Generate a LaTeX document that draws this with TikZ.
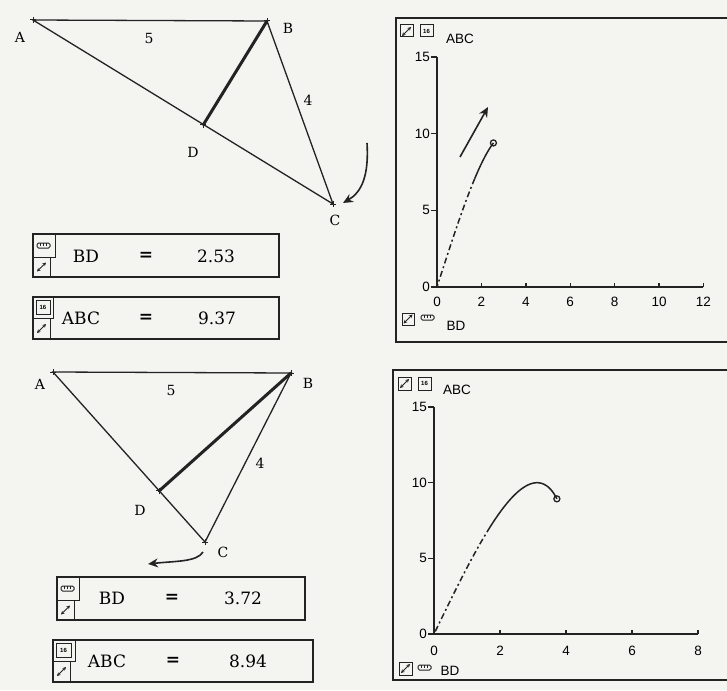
\documentclass[tikz,border=0pt]{standalone}
\usepackage{fontspec}
\setmainfont{DejaVu Serif}
\newfontfamily\plotfont{Liberation Sans}
\usetikzlibrary{arrows.meta,calc}
\definecolor{figline}{RGB}{35,35,35}
\definecolor{figpaper}{RGB}{244,244,241}
\tikzset{
  ln/.style   ={draw=figline, line width=1.3pt},
  lnb/.style  ={draw=figline, line width=3pt, line cap=round},
  rdb/.style  ={draw=figline, line width=2.4pt},
  frm/.style  ={draw=figline, line width=1.8pt},
  ico/.style  ={draw=figline, line width=1pt},
  ax/.style   ={draw=figline, line width=1.4pt},
  crv/.style  ={draw=figline, line width=1.5pt},
  dsh/.style  ={crv, dash pattern=on 6pt off 3pt on 2pt off 3pt},
  hand/.style ={draw=figline, line width=1.6pt, -{Stealth[length=10pt,width=9pt]}},
  vx/.style   ={draw=figline, line width=1pt},
  lab/.style  ={font=\fontsize{14}{16}\selectfont, inner sep=0pt},
  val/.style  ={font=\fontsize{17}{19}\selectfont, inner sep=0pt},
  tk/.style   ={font=\plotfont\fontsize{13.5}{15}\selectfont, inner sep=0pt},
  mk/.style   ={draw=figline, line width=1.3pt, circle, minimum size=6pt, inner sep=0pt},
  pics/expd/.style={code={
    \draw[figline, line width=1pt, {Stealth[length=3.5pt,width=3.5pt]}-{Stealth[length=3.5pt,width=3.5pt]}] (0,9) -- (9,0);}},
  pics/rulr/.style={code={
    \draw[ico, rounded corners=1.5pt] (0,0) rectangle (13,5);
    \draw[figline, line width=0.6pt] (3.5,0) -- (3.5,2.5) (6.5,0) -- (6.5,2.5) (9.5,0) -- (9.5,2.5);}},
  pics/area/.style={code={
    \node[font=\plotfont\bfseries\fontsize{6}{6}\selectfont, inner sep=0pt] at (0,0) {16};}},
}

\begin{document}
\begin{tikzpicture}[x=1pt,y=-1pt]
  \fill[figpaper] (0,0) rectangle (727,690);
  \useasboundingbox (0,0) rectangle (727,690);
  % upper triangle
  \coordinate (A1) at (33,20);
  \coordinate (B1) at (267,21);
  \coordinate (C1) at (333,204);
  \coordinate (D1) at ($(A1)!(B1)!(C1)$);
  \draw[ln] (A1) -- (B1) -- (C1) -- cycle;
  \draw[lnb] (B1) -- (D1);
  \node[lab] (lA1) at (20,37) {A};
  \node[lab] (lB1) at (288,28) {B};
  \node[lab] (lC1) at (335,220) {C};
  \node[lab] (lD1) at (193,152) {D};
  \node[lab] (lab1) at (149,38) {5};
  \node[lab] (lbc1) at (308,100) {4};
  \coordinate (r1) at (367,143);
  \coordinate (r1e) at (343,203);
  \draw[hand] (r1) .. controls (369,175) and (362,192) .. (r1e);
  % upper readouts
  \draw[rdb] (33,234) rectangle (279,277);
  \draw[ico] (33,234) rectangle (55,257);
  \draw[ico] (33,257) rectangle (50,277);
  \pic at (37,243) {rulr};
  \pic at (37,262.5) {expd};
  \node[val] (bd1) at (86,256) {BD};
  \node[val] (eq1) at (146,256) {\textbf{=}};
  \node[val] (v1) at (216,256) {2.53};
  \draw[rdb] (33,297) rectangle (279,339);
  \draw[ico] (33,297) rectangle (53,318);
  \draw[ico] (33,318) rectangle (50,339);
  \draw[ico] (36,300) rectangle (50,314);
  \pic at (43,307) {area};
  \pic at (37,324) {expd};
  \node[val] (abc1) at (81,318) {ABC};
  \node[val] (eq2) at (146,318) {\textbf{=}};
  \node[val] (v2) at (217,318) {9.37};
  % upper graph
  \draw[frm] (727,18) -- (396,18) -- (396,342) -- (727,342);
  \draw[ico] (400,25) rectangle (413,37);
  \pic at (402,27) {expd};
  \draw[ico] (420,25) rectangle (433,37);
  \pic at (426.5,31) {area};
  \node[tk] (ya1) at (460,39) {ABC};
  \draw[ico] (402,313) rectangle (414,325);
  \pic at (403.5,314.5) {expd};
  \pic at (421,315) {rulr};
  \node[tk] (xa1) at (456,326) {BD};
  \begin{scope}[shift={(437,287)}, x=22.2pt, y=15.33pt]
    \draw[ax] (0,15) -- (0,0) -- (12,0);
    \foreach \v in {0,5,10,15} {
      \draw[ax] (0,\v) -- ++(-6pt,0);
      \node[tk, anchor=east, xshift=-7pt] at (0,\v) {\v};
    }
    \foreach \v in {0,2,...,12} {
      \draw[ax] (\v,0) -- ++(0,4pt);
      \node[tk, yshift=-15pt] at (\v,0) {\v};
    }
    \draw[dsh] plot[domain=135:180, samples=30, variable=\t] ({20*sin(\t)/sqrt(41-40*cos(\t))},{10*sin(\t)});
    \draw[crv] plot[domain=110:135, samples=20, variable=\t] ({20*sin(\t)/sqrt(41-40*cos(\t))},{10*sin(\t)});
    \node[mk] (p1) at ({20*sin(110)/sqrt(41-40*cos(110))},{10*sin(110)}) {};
  \end{scope}
  \coordinate (g1) at (460,157);
  \coordinate (g1e) at (488,107);
  \draw[hand] (g1) -- (g1e);
  % lower triangle
  \coordinate (A2) at (53,372);
  \coordinate (B2) at (291,373);
  \coordinate (C2) at (205,542);
  \coordinate (D2) at ($(A2)!(B2)!(C2)$);
  \draw[ln] (A2) -- (B2) -- (C2) -- cycle;
  \draw[lnb] (B2) -- (D2);
  \node[lab] (lA2) at (40,384) {A};
  \node[lab] (lB2) at (308,383) {B};
  \node[lab] (lC2) at (223,552) {C};
  \node[lab] (lD2) at (140,510) {D};
  \node[lab] (lab2) at (171,390) {5};
  \node[lab] (lbc2) at (260,463) {4};
  \foreach \p in {A1,B1,C1,D1,A2,B2,C2,D2}
    \draw[vx] ($(\p)+(-3,0)$) -- ($(\p)+(3,0)$) ($(\p)+(0,-3)$) -- ($(\p)+(0,3)$);
  \coordinate (r2) at (203,552);
  \coordinate (r2e) at (148,564);
  \draw[hand] (r2) .. controls (197,562) and (175,561) .. (r2e);
  % lower readouts
  \draw[rdb] (57,577) rectangle (305,620);
  \draw[ico] (57,577) rectangle (79,600);
  \draw[ico] (57,600) rectangle (74,620);
  \pic at (61,586) {rulr};
  \pic at (61,605.5) {expd};
  \node[val] (bd2) at (112,598) {BD};
  \node[val] (eq3) at (172,598) {\textbf{=}};
  \node[val] (v3) at (243,598) {3.72};
  \draw[rdb] (53,640) rectangle (313,682);
  \draw[ico] (53,640) rectangle (75,661);
  \draw[ico] (53,661) rectangle (70,682);
  \draw[ico] (56,643) rectangle (71,657);
  \pic at (63.5,650) {area};
  \pic at (57,667) {expd};
  \node[val] (abc2) at (107,661) {ABC};
  \node[val] (eq4) at (173,661) {\textbf{=}};
  \node[val] (v4) at (248,661) {8.94};
  % lower graph
  \draw[frm] (727,370) -- (393,370) -- (393,680) -- (727,680);
  \draw[ico] (398,377) rectangle (411,390);
  \pic at (400,379) {expd};
  \draw[ico] (418,377) rectangle (431,390);
  \pic at (424.5,383.5) {area};
  \node[tk] (ya2) at (457,390) {ABC};
  \draw[ico] (399,662) rectangle (412,675);
  \pic at (401,664) {expd};
  \pic at (418,665) {rulr};
  \node[tk] (xa2) at (450,671) {BD};
  \begin{scope}[shift={(434,634)}, x=33pt, y=15.13pt]
    \draw[ax] (0,15) -- (0,0) -- (8,0);
    \foreach \v in {0,5,10,15} {
      \draw[ax] (0,\v) -- ++(-6pt,0);
      \node[tk, anchor=east, xshift=-7pt] at (0,\v) {\v};
    }
    \foreach \v in {0,2,...,8} {
      \draw[ax] (\v,0) -- ++(0,4pt);
      \node[tk, yshift=-17pt] at (\v,0) {\v};
    }
    \draw[dsh] plot[domain=135:180, samples=30, variable=\t] ({20*sin(\t)/sqrt(41-40*cos(\t))},{10*sin(\t)});
    \draw[crv] plot[domain=63.3:135, samples=40, variable=\t] ({20*sin(\t)/sqrt(41-40*cos(\t))},{10*sin(\t)});
    \node[mk] (p2) at ({20*sin(63.3)/sqrt(41-40*cos(63.3))},{10*sin(63.3)}) {};
  \end{scope}
\end{tikzpicture}
\end{document}
